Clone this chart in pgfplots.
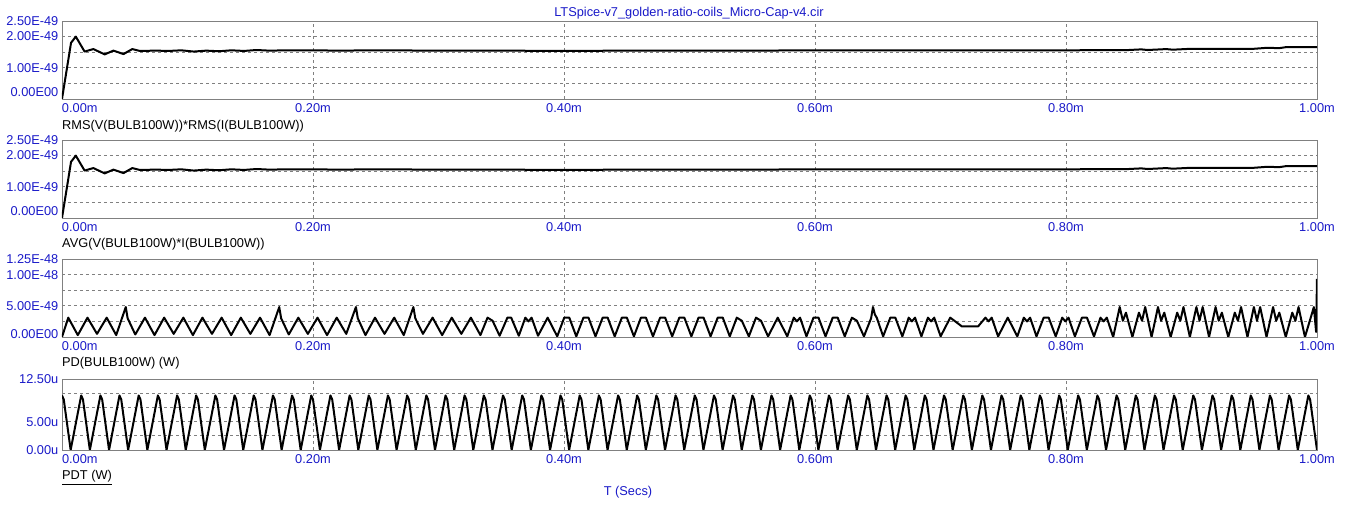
\documentclass[border=0pt]{standalone}
\usepackage{pgfplots}
\pgfplotsset{compat=1.18}
\usepackage{pgfplotstable}
\usepackage{fontspec}
\setmainfont{Liberation Sans}
\definecolor{tickblue}{RGB}{25,25,200}
\definecolor{framegray}{RGB}{128,128,128}
\newcommand{\fs}{\fontsize{12.8}{14}\selectfont}
\pgfplotsset{
 spice/.style={
  scale only axis, width=1255pt, xmin=0, xmax=1,
  axis line style={framegray, line width=0.8pt},
  xtick={0,0.2,0.4,0.6,0.8,1},
  xticklabels={\makebox[0pt][l]{0.00m},0.20m,0.40m,0.60m,0.80m,1.00m},
  xmajorgrids, ymajorgrids,
  major grid style={framegray, dash pattern=on 3pt off 3pt, line width=0.6pt},
  major tick length=0pt,
  tick style={draw=none},
  every tick label/.append style={font=\fs, text=tickblue},
  xticklabel style={anchor=north, inner sep=0pt, yshift=-4pt},
  yticklabel style={anchor=east, inner sep=0pt, xshift=-3.5pt},
  /pgf/number format/assume math mode=true,
 },
 trace/.style={black, line width=2pt, line join=round, no marks},
}
\pgfplotstableread{
x y
0 0
0.0072 1.80
0.0110 2.00
0.0180 1.52
0.0250 1.60
0.0340 1.43
0.0410 1.55
0.0490 1.44
0.0560 1.60
0.0620 1.54
0.0750 1.55
0.0850 1.54
0.0950 1.56
0.1050 1.52
0.1150 1.55
0.1250 1.53
0.1350 1.56
0.1450 1.54
0.1550 1.57
0.1650 1.55
0.1800 1.56
0.2000 1.56
0.2200 1.55
0.2500 1.56
0.3000 1.55
0.3500 1.55
0.4000 1.54
0.4500 1.55
0.5000 1.55
0.5500 1.55
0.6000 1.56
0.6500 1.56
0.7000 1.56
0.7500 1.56
0.8000 1.56
0.8500 1.57
0.8600 1.59
0.8650 1.57
0.8800 1.60
0.8850 1.58
0.9000 1.61
0.9500 1.61
0.9600 1.64
0.9700 1.63
0.9750 1.66
1.0000 1.66
}\rmsdata
\begin{document}
\begin{tikzpicture}[x=1pt,y=1pt]
\useasboundingbox (0,0) rectangle (1353,513);
% titles and labels
\node[anchor=base, font=\fs, text=tickblue] at (689,496) {LTSpice-v7\_golden-ratio-coils\_Micro-Cap-v4.cir};
\node[anchor=base, font=\fs, text=tickblue] at (628,17) {T (Secs)};
\node[anchor=base west, font=\fs, inner sep=0pt] at (62,383) {RMS(V(BULB100W))*RMS(I(BULB100W))};
\node[anchor=base west, font=\fs, inner sep=0pt] at (62,265) {AVG(V(BULB100W)*I(BULB100W))};
\node[anchor=base west, font=\fs, inner sep=0pt] at (62,146) {PD(BULB100W) (W)};
\node[anchor=base west, font=\fs, inner sep=0pt] at (62,33) {\underline{PDT (W)}};

% Panel 1
\begin{axis}[spice, at={(62pt,414pt)}, anchor=south west, height=78pt,
  ymin=0, ymax=2.5, ytick={0,0.5,1,1.5,2,2.5},
  yticklabels={\raisebox{2.9pt}[0pt][0pt]{0.00E00},,1.00E-49,,2.00E-49,2.50E-49}]
\addplot[trace] table {\rmsdata};
\end{axis}

% Panel 2
\begin{axis}[spice, at={(62pt,295pt)}, anchor=south west, height=78pt,
  ymin=0, ymax=2.5, ytick={0,0.5,1,1.5,2,2.5},
  yticklabels={\raisebox{2.9pt}[0pt][0pt]{0.00E00},,1.00E-49,,2.00E-49,2.50E-49}]
\addplot[trace] table {\rmsdata};
\end{axis}

% Panel 3
\begin{axis}[spice, at={(62pt,176pt)}, anchor=south west, height=78pt,
  ymin=0, ymax=12.5, ytick={0,2.5,5,7.5,10,12.5},
  yticklabels={\raisebox{-1.6pt}[0pt][0pt]{0.00E00},,5.00E-49,,1.00E-48,1.25E-48}]
\addplot[trace] coordinates {
(0,0) (0.0050,3.1) (0.0126,0.3)
(0.0203,3.1) (0.0279,0.5)
(0.0356,3.1) (0.0432,0.3)
(0.0508,4.8) (0.0523,3.0) (0.0584,0.4)
(0.0661,3.1) (0.0737,0.3)
(0.0814,3.1) (0.0890,0.5)
(0.0967,3.1) (0.1043,0.3)
(0.1119,3.1) (0.1195,0.5)
(0.1272,3.1) (0.1348,0.3)
(0.1425,3.1) (0.1501,0.5)
(0.1578,3.1) (0.1654,0.3)
(0.1731,4.8) (0.1746,3.0) (0.1807,0.4)
(0.1883,3.1) (0.1959,0.5)
(0.2036,3.1) (0.2112,0.3)
(0.2189,3.1) (0.2265,0.5)
(0.2342,4.8) (0.2357,3.0) (0.2418,0.3)
(0.2494,3.1) (0.2570,0.5)
(0.2647,3.1) (0.2723,0.3)
(0.2800,4.8) (0.2815,3.0) (0.2876,0.5)
(0.2953,3.1) (0.3029,0.3)
(0.3106,3.1) (0.3182,0.5)
(0.3258,3.1) (0.3334,0.3)
(0.3391,3.1) (0.3431,2.6) (0.3487,0.2)
(0.3549,3.1) (0.3579,3.1) (0.3640,0.2)
(0.3692,3.1) (0.3717,2.5) (0.3742,3.1) (0.3793,0.2)
(0.3870,3.1) (0.3946,0.1)
(0.4002,3.1) (0.4042,3.1) (0.4098,0.1)
(0.4155,3.1) (0.4195,3.1) (0.4251,0.1)
(0.4308,3.1) (0.4348,3.1) (0.4404,0.1)
(0.4461,3.1) (0.4501,3.1) (0.4557,0.1)
(0.4613,3.1) (0.4653,3.1) (0.4709,0.1)
(0.4766,3.1) (0.4806,3.1) (0.4862,0.1)
(0.4919,3.1) (0.4959,3.1) (0.5015,0.1)
(0.5072,3.1) (0.5112,3.1) (0.5168,0.1)
(0.5225,3.1) (0.5265,3.1) (0.5321,0.1)
(0.5377,3.1) (0.5417,2.6) (0.5473,0.1)
(0.5530,3.1) (0.5570,2.6) (0.5626,0.1)
(0.5703,3.1) (0.5779,0.1)
(0.5831,3.1) (0.5856,2.5) (0.5881,3.1) (0.5932,0.1)
(0.5988,3.1) (0.6028,3.1) (0.6084,0.1)
(0.6141,3.1) (0.6181,3.1) (0.6237,0.1)
(0.6294,3.1) (0.6334,2.6) (0.6390,0.1)
(0.6447,3.0) (0.6462,4.8) (0.6477,3.6) (0.6492,3.1) (0.6543,0.1)
(0.6600,3.1) (0.6640,3.1) (0.6696,0.1)
(0.6747,3.1) (0.6772,2.5) (0.6797,3.1) (0.6848,0.1)
(0.6900,3.1) (0.6925,2.5) (0.6950,3.1) (0.7001,0.1)
(0.7078,3.1) (0.7170,1.7) (0.7300,1.7)
(0.7358,3.1) (0.7383,2.5) (0.7408,3.1) (0.7459,0.1)
(0.7536,3.1) (0.7612,0.1)
(0.7664,3.1) (0.7689,2.5) (0.7714,3.1) (0.7765,0.1)
(0.7822,3.1) (0.7862,3.1) (0.7918,0.1)
(0.7970,3.1) (0.7995,2.5) (0.8020,3.1) (0.8071,0.1)
(0.8127,3.1) (0.8167,3.1) (0.8223,0.1)
(0.8275,3.1) (0.8300,2.5) (0.8325,3.1) (0.8376,0.0)
(0.8428,4.8) (0.8453,2.6) (0.8478,3.9) (0.8529,0.0)
(0.8581,3.9) (0.8606,2.6) (0.8631,4.8) (0.8682,0.0)
(0.8733,4.8) (0.8758,2.6) (0.8783,3.9) (0.8834,0.0)
(0.8886,3.9) (0.8911,2.6) (0.8936,4.8) (0.8987,0.0)
(0.9039,4.8) (0.9064,2.6) (0.9089,4.8) (0.9140,0.0)
(0.9192,4.8) (0.9217,2.6) (0.9242,3.9) (0.9293,0.0)
(0.9345,3.9) (0.9370,2.6) (0.9395,4.8) (0.9446,0.0)
(0.9497,4.8) (0.9522,2.6) (0.9547,4.8) (0.9598,0.0)
(0.9650,4.8) (0.9675,2.6) (0.9700,3.9) (0.9751,0.0)
(0.9803,3.9) (0.9828,2.6) (0.9853,4.8) (0.9904,0.0)
(0.9956,3.5) (0.9975,4.8) (0.9993,0.8) (1.0,9.3)
};
\end{axis}

% Panel 4
\begin{axis}[spice, at={(62pt,63pt)}, anchor=south west, height=71pt,
  ymin=0, ymax=12.5, ytick={0,2.5,5,7.5,10,12.5},
  yticklabels={0.00u,,5.00u,,,12.50u}]
\addplot[trace] coordinates {
(0.0000,9.6) (0.0014,8.9) (0.0069,0)
(0.0153,9.6) (0.0167,8.9) (0.0222,0)
(0.0306,9.6) (0.0320,8.9) (0.0375,0)
(0.0458,9.6) (0.0472,8.9) (0.0527,0)
(0.0611,9.6) (0.0625,8.9) (0.0680,0)
(0.0764,9.6) (0.0778,8.9) (0.0833,0)
(0.0917,9.6) (0.0931,8.9) (0.0986,0)
(0.1069,9.6) (0.1083,8.9) (0.1138,0)
(0.1222,9.6) (0.1236,8.9) (0.1291,0)
(0.1375,9.6) (0.1389,8.9) (0.1444,0)
(0.1528,9.6) (0.1542,8.9) (0.1597,0)
(0.1681,9.6) (0.1695,8.9) (0.1750,0)
(0.1833,9.6) (0.1847,8.9) (0.1902,0)
(0.1986,9.6) (0.2000,8.9) (0.2055,0)
(0.2139,9.6) (0.2153,8.9) (0.2208,0)
(0.2292,9.6) (0.2306,8.9) (0.2361,0)
(0.2444,9.6) (0.2458,8.9) (0.2513,0)
(0.2597,9.6) (0.2611,8.9) (0.2666,0)
(0.2750,9.6) (0.2764,8.9) (0.2819,0)
(0.2903,9.6) (0.2917,8.9) (0.2972,0)
(0.3056,9.6) (0.3070,8.9) (0.3125,0)
(0.3208,9.6) (0.3222,8.9) (0.3277,0)
(0.3361,9.6) (0.3375,8.9) (0.3430,0)
(0.3514,9.6) (0.3528,8.9) (0.3583,0)
(0.3667,9.6) (0.3681,8.9) (0.3736,0)
(0.3820,9.6) (0.3834,8.9) (0.3889,0)
(0.3972,9.6) (0.3986,8.9) (0.4041,0)
(0.4125,9.6) (0.4139,8.9) (0.4194,0)
(0.4278,9.6) (0.4292,8.9) (0.4347,0)
(0.4431,9.6) (0.4445,8.9) (0.4500,0)
(0.4583,9.6) (0.4597,8.9) (0.4652,0)
(0.4736,9.6) (0.4750,8.9) (0.4805,0)
(0.4889,9.6) (0.4903,8.9) (0.4958,0)
(0.5042,9.6) (0.5056,8.9) (0.5111,0)
(0.5195,9.6) (0.5209,8.9) (0.5264,0)
(0.5347,9.6) (0.5361,8.9) (0.5416,0)
(0.5500,9.6) (0.5514,8.9) (0.5569,0)
(0.5653,9.6) (0.5667,8.9) (0.5722,0)
(0.5806,9.6) (0.5820,8.9) (0.5875,0)
(0.5958,9.6) (0.5972,8.9) (0.6027,0)
(0.6111,9.6) (0.6125,8.9) (0.6180,0)
(0.6264,9.6) (0.6278,8.9) (0.6333,0)
(0.6417,9.6) (0.6431,8.9) (0.6486,0)
(0.6570,9.6) (0.6584,8.9) (0.6639,0)
(0.6722,9.6) (0.6736,8.9) (0.6791,0)
(0.6875,9.6) (0.6889,8.9) (0.6944,0)
(0.7028,9.6) (0.7042,8.9) (0.7097,0)
(0.7181,9.6) (0.7195,8.9) (0.7250,0)
(0.7333,9.6) (0.7347,8.9) (0.7402,0)
(0.7486,9.6) (0.7500,8.9) (0.7555,0)
(0.7639,9.6) (0.7653,8.9) (0.7708,0)
(0.7792,9.6) (0.7806,8.9) (0.7861,0)
(0.7945,9.6) (0.7959,8.9) (0.8014,0)
(0.8097,9.6) (0.8111,8.9) (0.8166,0)
(0.8250,9.6) (0.8264,8.9) (0.8319,0)
(0.8403,9.6) (0.8417,8.9) (0.8472,0)
(0.8556,9.6) (0.8570,8.9) (0.8625,0)
(0.8708,9.6) (0.8722,8.9) (0.8777,0)
(0.8861,9.6) (0.8875,8.9) (0.8930,0)
(0.9014,9.6) (0.9028,8.9) (0.9083,0)
(0.9167,9.6) (0.9181,8.9) (0.9236,0)
(0.9320,9.6) (0.9334,8.9) (0.9389,0)
(0.9472,9.6) (0.9486,8.9) (0.9541,0)
(0.9625,9.6) (0.9639,8.9) (0.9694,0)
(0.9778,9.6) (0.9792,8.9) (0.9847,0)
(0.9931,9.6) (0.9945,8.9) (1.0000,0)
};
\end{axis}
\end{tikzpicture}
\end{document}
